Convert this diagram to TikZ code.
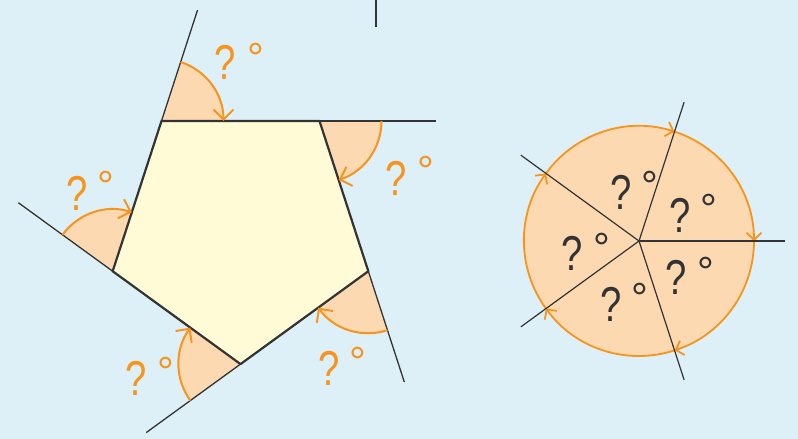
\documentclass[tikz,border=0pt]{standalone}
\usepackage{fontspec}
\newfontfamily\labfont{Liberation Sans}
\usetikzlibrary{arrows.meta}
\definecolor{bg}{HTML}{DDF0F7}
\definecolor{org}{HTML}{F7941D}
\definecolor{wedgec}{HTML}{FDD9B2}
\definecolor{pentc}{HTML}{FFFBD6}
\definecolor{inkc}{HTML}{333333}
\newcommand\qmk{\scalebox{0.78}[1]{?}}
\begin{document}
\begin{tikzpicture}[x=1pt,y=1pt,
  edgeline/.style={draw=inkc, line width=2.2pt, line join=round},
  extline/.style={draw=inkc, line width=1.3pt},
  rayline/.style={draw=inkc, line width=1.2pt},
  anglearc/.style={draw=org, line width=2pt, -{Straight Barb[length=10pt,width=20pt]}},
  circarc/.style={draw=org, line width=1.8pt, -{Straight Barb[length=7pt,width=15pt]}},
  qlab/.style={font=\labfont\fontsize{49}{49}\selectfont, inner sep=0pt, anchor=base},
  dlab/.style={font=\labfont\fontsize{42}{42}\selectfont, inner sep=0pt, anchor=base},
]
\useasboundingbox[fill=bg] (0,0) rectangle (798,-439);
% stray mark at the top
\coordinate (t1) at (376,0);
\coordinate (t2) at (376,-27);
\draw[inkc, line width=2pt] (t1) -- (t2);
% pentagon
\coordinate (O) at (240.5,-229.7);
\path (O) ++(126:134.4) coordinate (A);
\path (O) ++(54:134.4) coordinate (B);
\path (O) ++(-18:134.4) coordinate (C);
\path (O) ++(-90:134.4) coordinate (D);
\path (O) ++(-162:134.4) coordinate (E);
\foreach \v/\a in {A/72,B/0,C/-72,D/-144,E/-216}{
  \fill[wedgec] (\v) -- ++(\a:62) arc[start angle=\a, end angle=\a-72, radius=62] -- cycle;
}
\draw[edgeline, fill=pentc] (A) -- (B) -- (C) -- (D) -- (E) -- cycle;
\foreach \v/\a in {A/72,B/0,C/-72,D/-144,E/-216}{
  \draw[extline] (\v) -- ++(\a:116.5) coordinate (\v x);
  \draw[anglearc] (\v) ++(\a:62) arc[start angle=\a, end angle=\a-72, radius=62];
}
% labels around pentagon
\foreach \n/\qx/\qy/\dx/\dy in {la/225/79/256/42, lb/396/195/426/155, le/77/210/106/170, ld/136/395/166/356, lc/329/385/358/346}{
  \node[qlab, text=org] (\n q) at (\qx,-\qy) {\qmk};
  \node[dlab, text=org] (\n d) at (\dx,-\dy-30.5) {°};
}
% circle
\coordinate (P) at (639,-241);
\fill[wedgec] (P) circle[radius=115];
\foreach \t in {0,72,144,216,288}{
  \draw[circarc] (P) ++(\t+72:115) arc[start angle=\t+72, end angle=\t, radius=115];
}
\foreach \t in {0,72,144,216,288}{
  \draw[rayline] (P) -- ++(\t:146) coordinate (r\t);
}
\foreach \n/\qx/\qy/\dx/\dy in {s1/621/209/649.5/170, s2/680/232/708.5/193, s3/676/294/706/256, s4/611/321/640/282, s5/572/270/601.5/232}{
  \node[qlab, text=inkc] (\n q) at (\qx,-\qy) {\qmk};
  \node[dlab, text=inkc] (\n d) at (\dx,-\dy-30.5) {°};
}
\end{tikzpicture}
\end{document}
